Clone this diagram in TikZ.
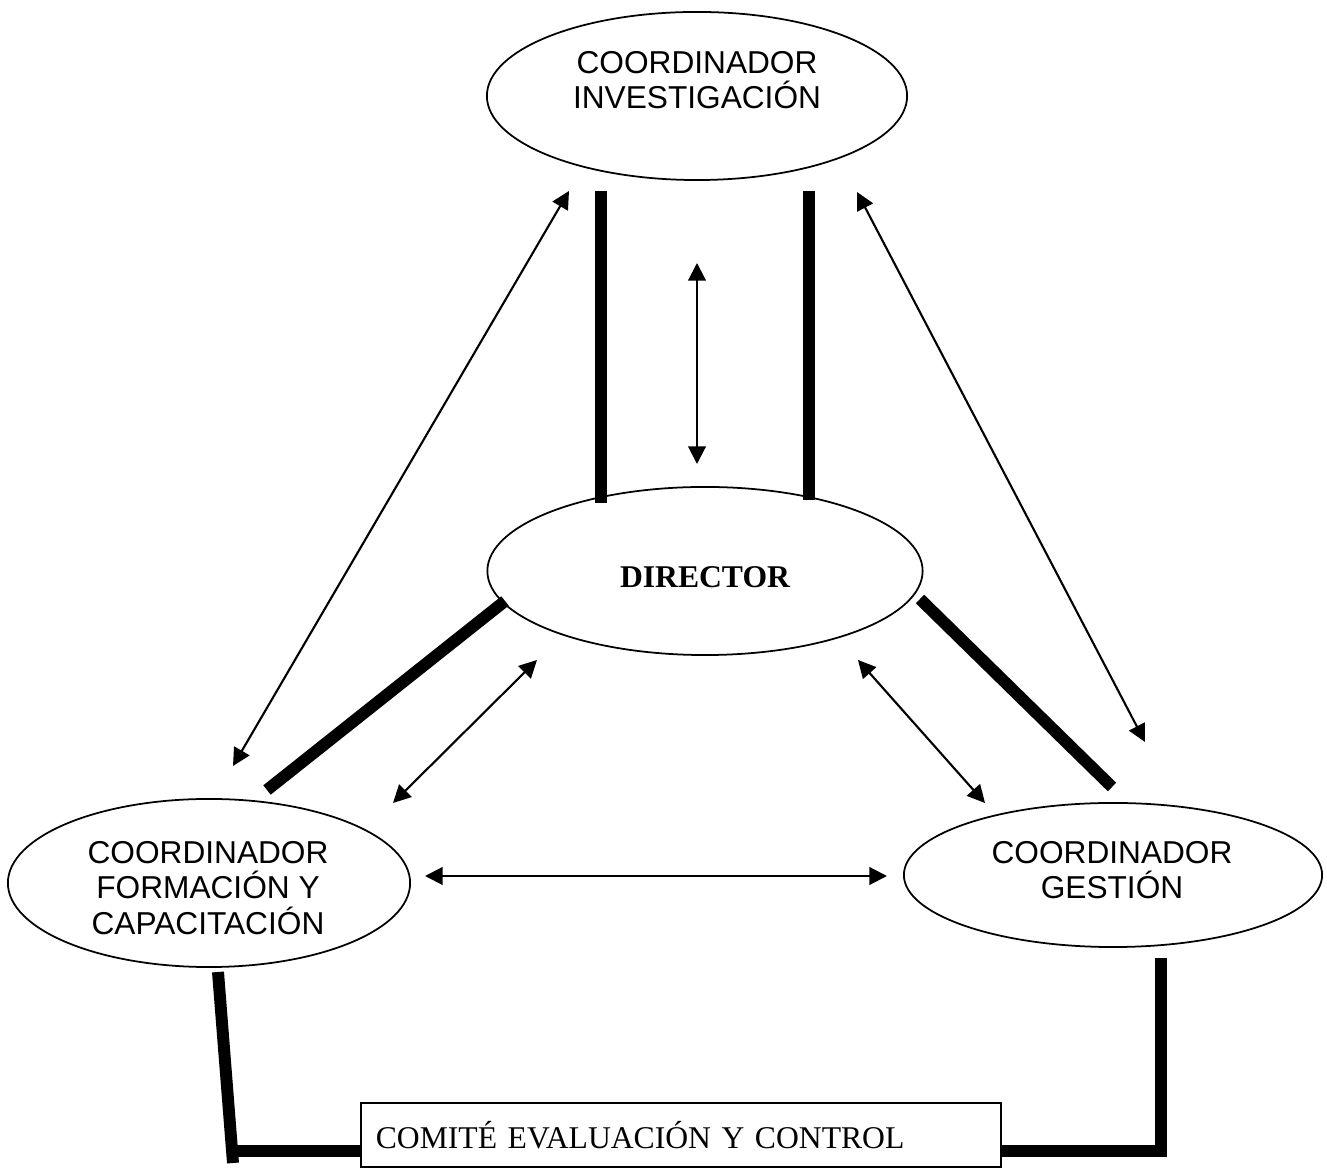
\documentclass[tikz,border=0pt]{standalone}
\usepackage{fontspec}
\setmainfont{Liberation Serif}
\setsansfont{Liberation Sans}
\usetikzlibrary{shapes.geometric,arrows.meta}
\tikzset{
  elip/.style={draw,ellipse,line width=0.5pt,inner sep=0pt},
  cargo/.style={font=\sffamily\fontsize{9}{10}\selectfont,align=center,inner sep=0pt},
  enlace/.style={line width=3.4pt},
  flecha/.style={line width=0.6pt,{Triangle[length=5pt,width=5pt]}-{Triangle[length=5pt,width=5pt]}}
}
\begin{document}
\begin{tikzpicture}[x=0.01cm,y=-0.01cm]
\useasboundingbox (0,0) rectangle (1327,1168);

% coordinadores y director
\node[elip,minimum width=4.2cm,minimum height=1.68cm] (inv) at (697,96) {};
\node[cargo] (inv-t) at (697,80) {COORDINADOR\\INVESTIGACIÓN};

\node[elip,minimum width=4.35cm,minimum height=1.68cm] (dir) at (705,571) {};
\node[font=\bfseries\fontsize{9}{10}\selectfont,inner sep=0pt] (dir-t) at (705,577) {DIRECTOR};

\node[elip,minimum width=4.02cm,minimum height=1.68cm] (form) at (209,883) {};
\node[cargo] (form-t) at (208,888) {COORDINADOR\\FORMACIÓN Y\\CAPACITACIÓN};

\node[elip,minimum width=4.18cm,minimum height=1.44cm] (ges) at (1113,875) {};
\node[cargo] (ges-t) at (1112,870) {COORDINADOR\\GESTIÓN};

\node[draw,line width=0.5pt,minimum width=6.4cm,minimum height=0.64cm,text width=6.1cm,
  inner xsep=0.15cm,align=left,font=\fontsize{9}{10}\selectfont] (com) at (681,1135) {COMITÉ EVALUACIÓN Y CONTROL};

% lineas gruesas
\coordinate (ia) at (601,191); \coordinate (da) at (601,503);
\coordinate (ib) at (809,191); \coordinate (db) at (809,500);
\coordinate (dc) at (505,601); \coordinate (fc) at (267,790);
\coordinate (dd) at (920,599); \coordinate (gd) at (1112,787);
\coordinate (fe) at (218,972); \coordinate (fe2) at (233,1163); \coordinate (fe3) at (229,1151);
\coordinate (ge) at (1161,958); \coordinate (ge2) at (1161,1151);
\draw[enlace] (ia) -- (da);
\draw[enlace] (ib) -- (db);
\draw[enlace] (dc) -- (fc);
\draw[enlace] (dd) -- (gd);
\draw[enlace] (fe) -- (fe2);
\draw[enlace] (fe3) -- (com.west |- fe3);
\draw[enlace] (ge) -- (ge2) -- (com.east |- ge2);

% flechas
\coordinate (p1) at (569,191); \coordinate (q1) at (233,766);
\coordinate (p2) at (857,192); \coordinate (q2) at (1145,742);
\coordinate (p3) at (697,263); \coordinate (q3) at (697,464);
\coordinate (p4) at (537,660); \coordinate (q4) at (393,803);
\coordinate (p5) at (858,660); \coordinate (q5) at (985,803);
\coordinate (p6) at (425,876); \coordinate (q6) at (887,876);
\draw[flecha] (p1) -- (q1);
\draw[flecha] (p2) -- (q2);
\draw[flecha] (p3) -- (q3);
\draw[flecha] (p4) -- (q4);
\draw[flecha] (p5) -- (q5);
\draw[flecha] (p6) -- (q6);
\end{tikzpicture}
\end{document}
